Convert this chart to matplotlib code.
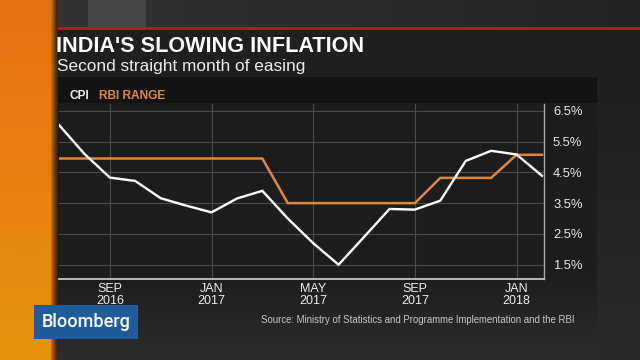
import matplotlib
matplotlib.use("Agg")
import matplotlib.pyplot as plt
import numpy as np
from matplotlib.colors import to_rgb

# ---------------- data ----------------
months = ["Jul 2016", "Aug 2016", "Sep 2016", "Oct 2016", "Nov 2016", "Dec 2016",
          "Jan 2017", "Feb 2017", "Mar 2017", "Apr 2017", "May 2017", "Jun 2017",
          "Jul 2017", "Aug 2017", "Sep 2017", "Oct 2017", "Nov 2017", "Dec 2017",
          "Jan 2018", "Feb 2018"]
cpi = [6.04, 5.10, 4.33, 4.22, 3.66, 3.42, 3.20, 3.65, 3.90, 3.00,
       2.20, 1.50, 2.40, 3.31, 3.29, 3.58, 4.87, 5.20, 5.08, 4.39]
rbi_range = [4.95, 4.95, 4.95, 4.95, 4.95, 4.95, 4.95, 4.95, 4.95, 3.50,
             3.50, 3.50, 3.50, 3.50, 3.50, 4.32, 4.32, 4.32, 5.07, 5.07]
x_tick_months = ["Sep 2016", "Jan 2017", "May 2017", "Sep 2017", "Jan 2018"]
x_tick_labels = ["SEP\n2016", "JAN\n2017", "MAY\n2017", "SEP\n2017", "JAN\n2018"]
y_ticks = [1.5, 2.5, 3.5, 4.5, 5.5, 6.5]
y_tick_labels = ["1.5%", "2.5%", "3.5%", "4.5%", "5.5%", "6.5%"]

title = "INDIA'S SLOWING INFLATION"
subtitle = "Second straight month of easing"
source = "Source: Ministry of Statistics and Programme Implementation and the RBI"

FONT = ["Liberation Sans", "DejaVu Sans"]
plt.rcParams["font.family"] = FONT

W, H = 640, 360
fig = plt.figure(figsize=(6.4, 3.6), dpi=100)

# ---------------- background (pixel coordinates) ----------------
bg = fig.add_axes([0, 0, 1, 1], zorder=0)
bg.axis("off")
_z = [0]


def nz():
    _z[0] += 1
    return _z[0]


def grad(x0, x1, y0, y1, stops, horizontal=False, n=256):
    pos = np.array([s[0] for s in stops])
    cols = np.array([to_rgb(s[1]) for s in stops])
    t = np.linspace(0, 1, n)
    arr = np.stack([np.interp(t, pos, cols[:, k]) for k in range(3)], axis=-1)
    if horizontal:
        img = arr[np.newaxis, :, :]
    else:
        img = arr[:, np.newaxis, :]
    bg.imshow(img, extent=(x0, x1, y1, y0), aspect="auto", origin="upper",
              interpolation="bilinear", zorder=nz())


def rect(x0, x1, y0, y1, color):
    bg.add_patch(plt.Rectangle((x0, y0), x1 - x0, y1 - y0, color=color, lw=0,
                               zorder=nz()))


# base
rect(0, W, 0, H, "#272727")
# top band (above red line)
grad(0, W, 0, 28, [(0, "#353535"), (0.5, "#2c2c2c"), (1, "#232323")], horizontal=True)
rect(88, 146, 0, 27, "#474747")
# red rule
rect(55, W, 27, 30, "#b3191e")
# title panel
rect(55, W, 30, 77, "#1f1f21")
# right side region
grad(597, W, 77, H, [(0, "#1f1f1f"), (1, "#2a2a2a")])
# chart panel and lower area
grad(57, 597, 103, H, [(0, "#1c1c1e"), (0.68, "#1e1e1f"), (1, "#2c2c2c")])
# legend bar
rect(57, 597, 77, 103, "#131315")
# orange stripe
grad(0, 52, 0, H, [(0, "#e2700f"), (1, "#ea920f")])
grad(51, 58, 0, H, [(0, "#d27010"), (0.55, "#6a3e12"), (1, "#222222")], horizontal=True)
# Bloomberg box
rect(34, 138, 305, 339, "#1f5c99")

bg.set_xlim(0, W)
bg.set_ylim(H, 0)


def fx(px):
    return px / W


def fy(py):
    return 1 - py / H


# ---------------- texts ----------------
fig.text(fx(56), fy(52.5), title, color="white", fontsize=15.6, fontweight="bold",
         va="baseline", ha="left", zorder=5)
fig.text(fx(57), fy(70.7), subtitle, color="#ececec", fontsize=12.4,
         va="baseline", ha="left", zorder=5)
fig.text(fx(69), fy(99), "CPI", color="#f0f0f0", fontsize=8.6, fontweight="bold",
         va="baseline", ha="left", zorder=5)
fig.text(fx(99), fy(99), "RBI RANGE", color="#e0883a", fontsize=8.6, fontweight="bold",
         va="baseline", ha="left", zorder=5)
fig.text(fx(261), fy(320), source, color="#c8c8c8", fontsize=6.9,
         va="center", ha="left", zorder=5)
fig.text(fx(86), fy(322), "Bloomberg", color="white", fontsize=13, fontweight="medium",
         family=["Roboto", "Liberation Sans", "DejaVu Sans"],
         va="center", ha="center", zorder=5)

# ---------------- chart ----------------
left, right, top, bottom = 59, 544, 104, 279.3
ax = fig.add_axes([fx(left), fy(bottom), (right - left) / W, (bottom - top) / H], zorder=2)
ax.set_facecolor("none")

x = np.arange(len(months))
ax.plot(x, rbi_range, color="#e0883a", lw=1.8, solid_joinstyle="miter", zorder=3)
ax.plot(x, cpi, color="white", lw=1.7, solid_joinstyle="miter", zorder=4)

ax.set_xlim(0, 19.08)
ax.set_ylim(1.026, 6.72)

xt = [months.index(m) for m in x_tick_months]
ax.set_xticks(xt)
ax.set_xticklabels(x_tick_labels, color="#eeeeee", fontsize=9, linespacing=0.95)
ax.set_yticks(y_ticks)
ax.set_yticklabels(y_tick_labels, color="#e6e6e6", fontsize=9.4)
ax.yaxis.tick_right()
ax.tick_params(axis="both", length=0)
ax.tick_params(axis="x", pad=3)
ax.tick_params(axis="y", pad=6.5)

ax.grid(True, color="#4a4a4c", lw=0.8)
ax.set_axisbelow(True)
for s in ["top", "left"]:
    ax.spines[s].set_visible(False)
ax.spines["bottom"].set_color("#c4c4c4")
ax.spines["bottom"].set_linewidth(1.3)
ax.spines["right"].set_color("#a8a8a8")
ax.spines["right"].set_linewidth(1.0)

fig.savefig("out.png", dpi=100)
